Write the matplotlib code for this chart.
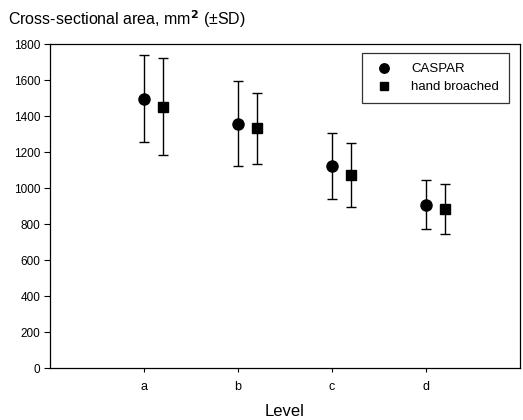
import matplotlib
matplotlib.use("Agg")
import matplotlib.pyplot as plt
import numpy as np

plt.rcParams['font.family'] = ['Liberation Sans', 'DejaVu Sans']

levels = ['a', 'b', 'c', 'd']
caspar_mean = [1495, 1358, 1123, 905]
caspar_upper = [1737, 1595, 1305, 1042]
caspar_lower = [1255, 1122, 941, 772]
hand_mean = [1452, 1333, 1072, 885]
hand_upper = [1722, 1530, 1250, 1022]
hand_lower = [1183, 1133, 894, 746]
yticks = [0, 200, 400, 600, 800, 1000, 1200, 1400, 1600, 1800]

fig = plt.figure(figsize=(5.23, 4.2), dpi=100)
ax = fig.add_axes([0.0956, 0.1238, 0.8987, 0.7714])

x = np.arange(1, len(levels) + 1)
cm = np.array(caspar_mean); hm = np.array(hand_mean)
c_err = [cm - np.array(caspar_lower), np.array(caspar_upper) - cm]
h_err = [hm - np.array(hand_lower), np.array(hand_upper) - hm]

ax.errorbar(x, cm, yerr=c_err, fmt='o', color='black', ms=8, elinewidth=1.0,
            capsize=3.5, capthick=1.0, label='CASPAR')
ax.errorbar(x + 0.2, hm, yerr=h_err, fmt='s', color='black', ms=7, elinewidth=1.0,
            capsize=3.5, capthick=1.0, label='hand broached')

ax.set_xlim(0, 5)
ax.set_ylim(0, 1800)
ax.set_xticks(x)
ax.set_xticklabels(levels, fontsize=9)
ax.set_yticks(yticks)
ax.set_yticklabels([str(v) for v in yticks], fontsize=8.5)
ax.tick_params(axis='x', direction='out', length=3, width=0.8, pad=6)
ax.tick_params(axis='y', direction='out', length=4, width=0.8, pad=3)
for s in ax.spines.values():
    s.set_linewidth(0.9)

ax.set_xlabel('Level', fontsize=12, labelpad=8)
fig.text(0.015, 0.955, 'Cross-sectional area, mm$^{\\mathbf{2}}$ (±SD)', fontsize=11.5,
         ha='left', va='center')

handles, labels = ax.get_legend_handles_labels()
handles = [h[0] for h in handles]
leg = ax.legend(handles, labels, loc='upper right', bbox_to_anchor=(0.9766, 0.972),
                borderaxespad=0, fontsize=9.5, frameon=True, fancybox=False,
                edgecolor='black', handletextpad=1.2, borderpad=0.75,
                labelspacing=0.45, handlelength=1.8, markerscale=0.85)
leg.get_frame().set_linewidth(0.9)

fig.savefig('out.png', dpi=100)
